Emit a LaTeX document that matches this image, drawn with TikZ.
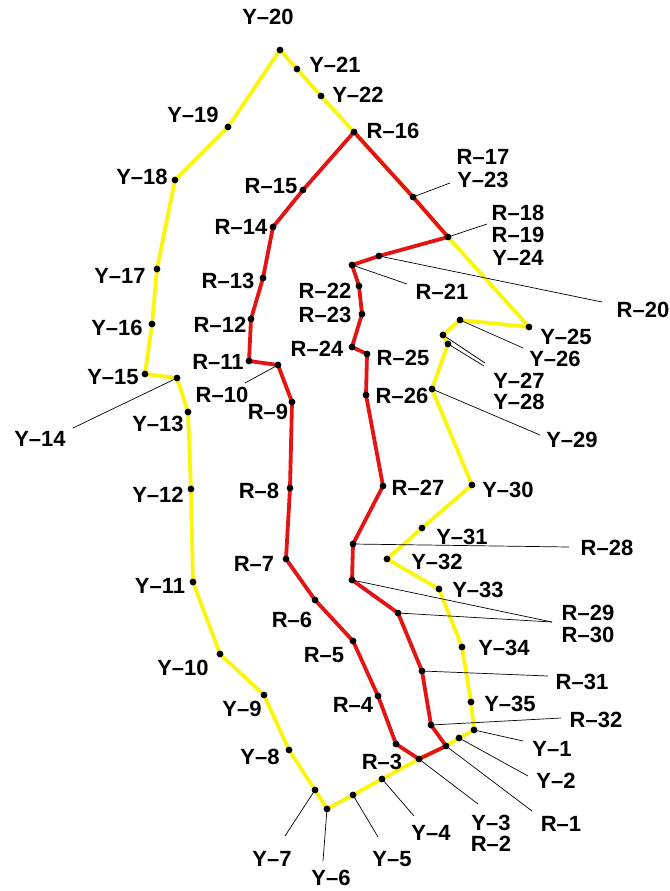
\documentclass[tikz,border=0pt]{standalone}
\usepackage{fontspec}
\setmainfont{Liberation Sans}
\definecolor{yl}{RGB}{250,245,10}
\definecolor{rd}{RGB}{228,20,20}
\tikzset{
  yelline/.style={draw=yl,line width=3.8pt,line join=round,line cap=round},
  redline/.style={draw=rd,line width=3.8pt,line join=round,line cap=round},
  lead/.style={draw=black,line width=0.7pt},
  lab/.style={inner sep=0pt,font=\fontsize{22}{24}\selectfont\bfseries},
}
\begin{document}
\begin{tikzpicture}[x=1pt,y=-1pt]
\useasboundingbox[fill=white] (0,0) rectangle (669,891);
% points
\coordinate (Y1) at (474,730);
\coordinate (Y2) at (459,738);
\coordinate (R1) at (446,746);
\coordinate (Y3) at (419,759);
\coordinate (Y4) at (382,779);
\coordinate (Y5) at (353,795);
\coordinate (Y6) at (327,809);
\coordinate (Y7) at (315,790);
\coordinate (Y8) at (289,750);
\coordinate (Y9) at (264,695);
\coordinate (Y10) at (220,654);
\coordinate (Y11) at (193,582);
\coordinate (Y12) at (191,489);
\coordinate (Y13) at (188,412);
\coordinate (Y14) at (177,378);
\coordinate (Y15) at (145,374);
\coordinate (Y16) at (152,324);
\coordinate (Y17) at (157,269);
\coordinate (Y18) at (175,180);
\coordinate (Y19) at (228,127);
\coordinate (Y20) at (280,50);
\coordinate (Y21) at (297,69);
\coordinate (Y22) at (321,96);
\coordinate (R16) at (354,132);
\coordinate (Y23) at (413,197);
\coordinate (Y24) at (448,237);
\coordinate (Y25) at (529,327);
\coordinate (Y26) at (460,320);
\coordinate (Y27) at (443,335);
\coordinate (Y28) at (448,344);
\coordinate (Y29) at (432,389);
\coordinate (Y30) at (472,485);
\coordinate (Y31) at (422,528);
\coordinate (Y32) at (387,559);
\coordinate (Y33) at (439,589);
\coordinate (Y34) at (462,647);
\coordinate (Y35) at (471,702);
\coordinate (R3) at (396,744);
\coordinate (R4) at (378,696);
\coordinate (R5) at (353,641);
\coordinate (R6) at (315,600);
\coordinate (R7) at (286,559);
\coordinate (R8) at (290,488);
\coordinate (R9) at (292,402);
\coordinate (R10) at (278,365);
\coordinate (R11) at (249,361);
\coordinate (R12) at (251,319);
\coordinate (R13) at (263,278);
\coordinate (R14) at (273,227);
\coordinate (R15) at (303,190);
\coordinate (R20) at (379,256);
\coordinate (R21) at (352,265);
\coordinate (R22) at (359,286);
\coordinate (R23) at (362,314);
\coordinate (R24) at (352,347);
\coordinate (R25) at (367,354);
\coordinate (R26) at (366,395);
\coordinate (R27) at (383,486);
\coordinate (R28) at (353,544);
\coordinate (R29) at (352,580);
\coordinate (R30) at (398,613);
\coordinate (R31) at (422,671);
\coordinate (R32) at (431,725);
% yellow route
\path[yelline] (Y1) -- (Y2) -- (R1) -- (Y3) -- (Y4) -- (Y5) -- (Y6) -- (Y7) -- (Y8) -- (Y9) -- (Y10) -- (Y11) -- (Y12) -- (Y13) -- (Y14) -- (Y15) -- (Y16) -- (Y17) -- (Y18) -- (Y19) -- (Y20) -- (Y21) -- (Y22) -- (R16) -- (Y23) -- (Y24) -- (Y25) -- (Y26) -- (Y27) -- (Y28) -- (Y29) -- (Y30) -- (Y31) -- (Y32) -- (Y33) -- (Y34) -- (Y35) -- cycle;
% red route
\path[redline] (R1) -- (Y3) -- (R3) -- (R4) -- (R5) -- (R6) -- (R7) -- (R8) -- (R9) -- (R10) -- (R11) -- (R12) -- (R13) -- (R14) -- (R15) -- (R16) -- (Y23) -- (Y24) -- (R20) -- (R21) -- (R22) -- (R23) -- (R24) -- (R25) -- (R26) -- (R27) -- (R28) -- (R29) -- (R30) -- (R31) -- (R32) -- cycle;
% leader end points
\coordinate (eY23) at (450,183);
\coordinate (eY24) at (487,224);
\coordinate (eR20) at (602,302);
\coordinate (eR21) at (407,284);
\coordinate (eY26) at (523,348);
\coordinate (eY27) at (485,363);
\coordinate (eY28) at (484,366);
\coordinate (eY29) at (540,435);
\coordinate (eY14) at (73,428);
\coordinate (eR10) at (245,383);
\coordinate (eR28) at (569,547);
\coordinate (eR29) at (552,622);
\coordinate (eR31) at (548,676);
\coordinate (eR32) at (561,718);
\coordinate (eY1) at (523,741);
\coordinate (eY2) at (528,776);
\coordinate (eR1) at (532,811);
\coordinate (eY3) at (478,804);
\coordinate (eY4) at (414,816);
\coordinate (eY5) at (378,837);
\coordinate (eY6) at (323,861);
\coordinate (eY7) at (285,836);
% leaders
\draw[lead] (Y23) -- (eY23);
\draw[lead] (Y24) -- (eY24);
\draw[lead] (R20) -- (eR20);
\draw[lead] (R21) -- (eR21);
\draw[lead] (Y26) -- (eY26);
\draw[lead] (Y27) -- (eY27);
\draw[lead] (Y28) -- (eY28);
\draw[lead] (Y29) -- (eY29);
\draw[lead] (Y14) -- (eY14);
\draw[lead] (R10) -- (eR10);
\draw[lead] (R28) -- (eR28);
\draw[lead] (R29) -- (eR29);
\draw[lead] (R30) -- (eR29);
\draw[lead] (R31) -- (eR31);
\draw[lead] (R32) -- (eR32);
\draw[lead] (Y1) -- (eY1);
\draw[lead] (Y2) -- (eY2);
\draw[lead] (R1) -- (eR1);
\draw[lead] (Y3) -- (eY3);
\draw[lead] (Y4) -- (eY4);
\draw[lead] (Y5) -- (eY5);
\draw[lead] (Y6) -- (eY6);
\draw[lead] (Y7) -- (eY7);
% dots
\foreach \p in {Y1,Y2,R1,Y3,Y4,Y5,Y6,Y7,Y8,Y9,Y10,Y11,Y12,Y13,Y14,Y15,Y16,Y17,Y18,Y19,Y20,Y21,Y22,R16,Y23,Y24,Y25,Y26,Y27,Y28,Y29,Y30,Y31,Y32,Y33,Y34,Y35,R3,R4,R5,R6,R7,R8,R9,R10,R11,R12,R13,R14,R15,R20,R21,R22,R23,R24,R25,R26,R27,R28,R29,R30,R31,R32}
  \fill (\p) circle (3.4pt);
% labels
\node[lab] (tY20) at (268,17) {Y–20};
\node[lab] (tY21) at (335,65) {Y–21};
\node[lab] (tY22) at (358,95) {Y–22};
\node[lab] (tR16) at (393,131) {R–16};
\node[lab] (tY19) at (193,115) {Y–19};
\node[lab] (tY18) at (142,177) {Y–18};
\node[lab] (tR15) at (271,186) {R–15};
\node[lab] (tR14) at (241,227) {R–14};
\node[lab] (tR17) at (483,157) {R–17};
\node[lab] (tY23) at (483,180) {Y–23};
\node[lab] (tR18) at (518,213) {R–18};
\node[lab] (tR19) at (518,235) {R–19};
\node[lab] (tY24) at (518,258) {Y–24};
\node[lab] (tR20) at (643,310) {R–20};
\node[lab] (tR21) at (442,292) {R–21};
\node[lab] (tR22) at (325,291) {R–22};
\node[lab] (tR23) at (325,315) {R–23};
\node[lab] (tR24) at (317,349) {R–24};
\node[lab] (tR25) at (403,358) {R–25};
\node[lab] (tR26) at (402,396) {R–26};
\node[lab] (tY25) at (566,337) {Y–25};
\node[lab] (tY26) at (555,359) {Y–26};
\node[lab] (tY27) at (519,381) {Y–27};
\node[lab] (tY28) at (519,402) {Y–28};
\node[lab] (tY29) at (572,440) {Y–29};
\node[lab] (tY17) at (120,276) {Y–17};
\node[lab] (tY16) at (117,328) {Y–16};
\node[lab] (tY15) at (113,377) {Y–15};
\node[lab] (tY14) at (40,439) {Y–14};
\node[lab] (tY13) at (158,424) {Y–13};
\node[lab] (tY12) at (158,495) {Y–12};
\node[lab] (tR13) at (228,281) {R–13};
\node[lab] (tR12) at (220,325) {R–12};
\node[lab] (tR11) at (218,362) {R–11};
\node[lab] (tR10) at (222,395) {R–10};
\node[lab] (tR9) at (268,412) {R–9};
\node[lab] (tR8) at (259,491) {R–8};
\node[lab] (tR27) at (418,488) {R–27};
\node[lab] (tY30) at (508,490) {Y–30};
\node[lab] (tY31) at (462,537) {Y–31};
\node[lab] (tR28) at (607,548) {R–28};
\node[lab] (tY32) at (437,562) {Y–32};
\node[lab] (tY33) at (478,590) {Y–33};
\node[lab] (tR29) at (588,613) {R–29};
\node[lab] (tR30) at (588,635) {R–30};
\node[lab] (tY34) at (504,648) {Y–34};
\node[lab] (tR31) at (582,682) {R–31};
\node[lab] (tY35) at (510,704) {Y–35};
\node[lab] (tR32) at (596,720) {R–32};
\node[lab] (tY1) at (552,749) {Y–1};
\node[lab] (tY2) at (556,781) {Y–2};
\node[lab] (tR1) at (561,824) {R–1};
\node[lab] (tY3) at (491,823) {Y–3};
\node[lab] (tR2) at (491,844) {R–2};
\node[lab] (tR3) at (382,762) {R–3};
\node[lab] (tR4) at (353,705) {R–4};
\node[lab] (tY4) at (431,833) {Y–4};
\node[lab] (tY5) at (392,859) {Y–5};
\node[lab] (tY6) at (331,878) {Y–6};
\node[lab] (tY7) at (272,859) {Y–7};
\node[lab] (tR7) at (254,564) {R–7};
\node[lab] (tR6) at (292,620) {R–6};
\node[lab] (tR5) at (324,655) {R–5};
\node[lab] (tY11) at (160,586) {Y–11};
\node[lab] (tY10) at (183,668) {Y–10};
\node[lab] (tY9) at (242,709) {Y–9};
\node[lab] (tY8) at (260,757) {Y–8};
\end{tikzpicture}
\end{document}
